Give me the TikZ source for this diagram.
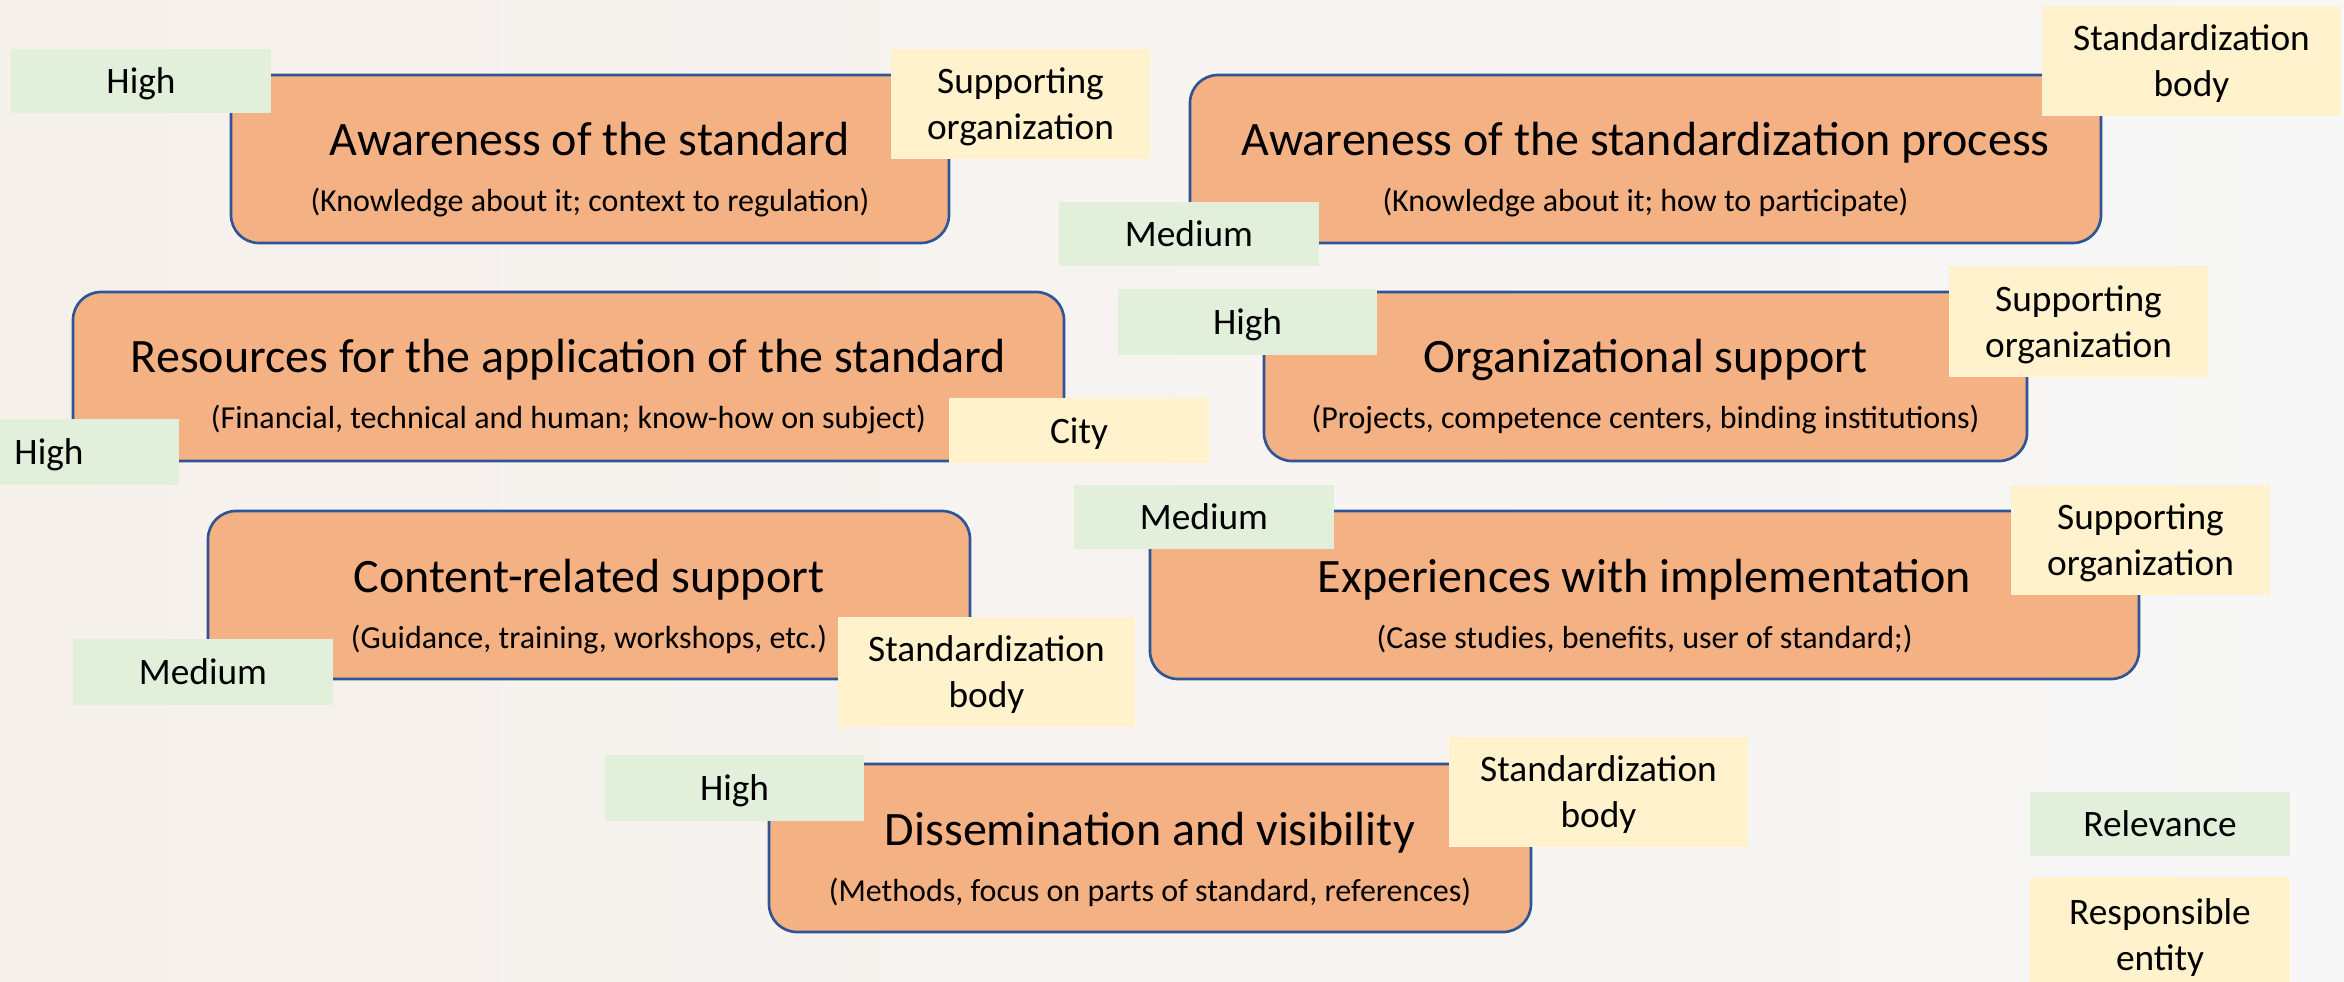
\documentclass[tikz,border=0pt]{standalone}
\usepackage{fontspec}
\setmainfont{Carlito}
\definecolor{boxfill}{RGB}{244,177,131}
\definecolor{boxline}{RGB}{47,85,151}
\definecolor{relfill}{RGB}{226,239,218}
\definecolor{respfill}{RGB}{255,242,204}
\definecolor{bgleft}{RGB}{246,240,235}
\definecolor{bgright}{RGB}{247,247,247}
\tikzset{
  orangebox/.style={draw=boxline, fill=boxfill, line width=0.8pt, rounded corners=8.4pt, inner sep=0pt},
  titletext/.style={anchor=base, inner sep=0pt, font=\fontsize{14.4}{16}\selectfont},
  subtext/.style={anchor=base, inner sep=0pt, font=\fontsize{9.6}{11}\selectfont},
  reltag/.style={fill=relfill, inner sep=0pt, text depth=0pt, align=center, font=\fontsize{11.2}{13.8}\selectfont},
  resptag/.style={fill=respfill, inner sep=0pt, text depth=0pt, align=center, font=\fontsize{11.2}{13.8}\selectfont},
}
\newcommand\orangebox[7]{%
  \node[orangebox, minimum width={(#4-#2)*0.3pt}, minimum height={(#5-#3)*0.3pt}] (#1) at ({(#2+#4)/2},{(#3+#5)/2}) {};
  \node[titletext] (#1-t) at ({(#2+#4)/2},{#3+81}) {#6};
  \node[subtext] (#1-s) at ({(#2+#4)/2},{#3+137}) {#7};}
\newcommand\tagbox[7]{%
  \node[#2, minimum width={(#5-#3)*0.3pt}, minimum height={(#6-#4)*0.3pt}] (#1) at ({(#3+#5)/2},{(#4+#6)/2}) {#7};}
\begin{document}
\begin{tikzpicture}[x=0.3pt, y=-0.3pt]
\useasboundingbox (0,0) rectangle (2344,982);
\clip (0,0) rectangle (2344,982);
\shade[left color=bgleft, right color=bgright] (0,0) rectangle (2344,982);

\orangebox{b1}{231}{75}{949}{243}{Awareness of the standard}{(Knowledge about it; context to regulation)}
\orangebox{b2}{1190}{75}{2101}{243}{Awareness of the standardization process}{(Knowledge about it; how to participate)}
\orangebox{b3}{73}{292}{1064}{461}{Resources for the application of the standard}{(Financial, technical and human; know-how on subject)}
\orangebox{b4}{1264}{292}{2027}{461}{Organizational support}{(Projects, competence centers, binding institutions)}
\orangebox{b5}{208}{511}{970}{679}{Content-related support}{(Guidance, training, workshops, etc.)}
\orangebox{b6}{1150}{511}{2139}{679}{Experiences with implementation}{(Case studies, benefits, user of standard;)}
\orangebox{b7}{769}{764}{1531}{932}{Dissemination and visibility}{(Methods, focus on parts of standard, references)}

\tagbox{g1}{reltag}{11}{49}{271}{113}{High}
\tagbox{g2}{reltag}{1059}{202}{1319}{266}{Medium}
\tagbox{g3}{reltag}{1118}{289}{1377}{355}{High}
\tagbox{g4}{reltag}{-81}{419}{179}{485}{High}
\tagbox{g5}{reltag}{1074}{485}{1334}{549}{Medium}
\tagbox{g6}{reltag}{73}{639}{333}{705}{Medium}
\tagbox{g7}{reltag}{605}{755}{864}{821}{High}
\tagbox{g8}{reltag}{2030}{792}{2290}{856}{Relevance}

\tagbox{y1}{resptag}{891}{49}{1150}{159}{Supporting\\organization}
\tagbox{y2}{resptag}{2042}{6}{2341}{116}{Standardization\\body}
\tagbox{y3}{resptag}{1949}{266}{2208}{377}{Supporting\\organization}
\tagbox{y4}{resptag}{949}{398}{1209}{463}{City}
\tagbox{y5}{resptag}{2011}{485}{2270}{595}{Supporting\\organization}
\tagbox{y6}{resptag}{838}{617}{1135}{727}{Standardization\\body}
\tagbox{y7}{resptag}{1449}{737}{1748}{847}{Standardization\\body}
\tagbox{y8}{resptag}{2030}{877}{2290}{992}{Responsible\\entity}
\end{tikzpicture}
\end{document}
